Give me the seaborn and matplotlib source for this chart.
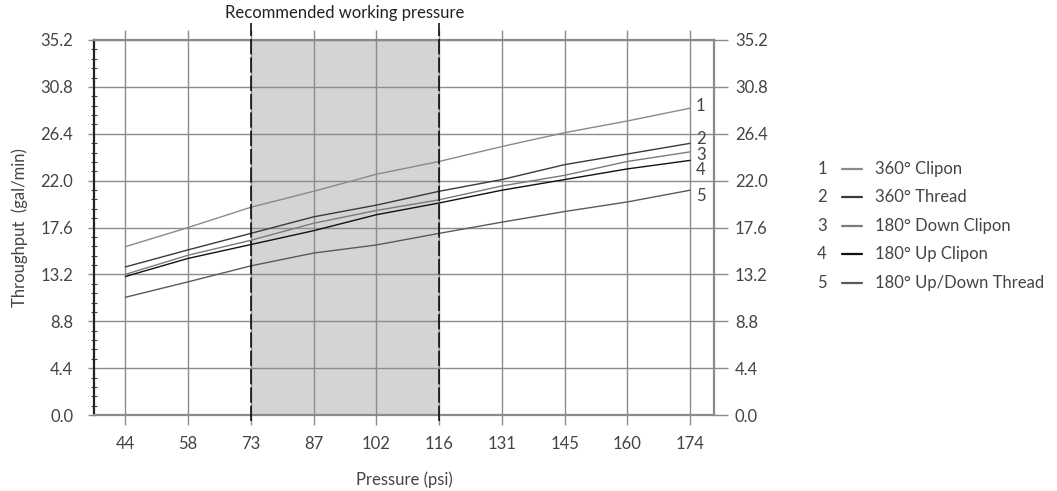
import numpy as np
import pandas as pd
import seaborn as sns
import matplotlib.pyplot as plt
from matplotlib.lines import Line2D
from matplotlib.ticker import MultipleLocator
import matplotlib.transforms as mtransforms

# --- data ---
PRESSURE = [44, 58, 73, 87, 102, 116, 131, 145, 160, 174]
SERIES = ['360° Clipon', '360° Thread', '180° Down Clipon', '180° Up Clipon', '180° Up/Down Thread']
FLOW_1 = [15.8, 17.6, 19.5, 21.0, 22.6, 23.8, 25.2, 26.5, 27.6, 28.8]
FLOW_2 = [13.9, 15.5, 17.05, 18.6, 19.7, 21.0, 22.1, 23.5, 24.5, 25.5]
FLOW_3 = [13.2, 15.0, 16.4, 18.0, 19.2, 20.2, 21.5, 22.5, 23.8, 24.7]
FLOW_4 = [13.0, 14.7, 16.0, 17.3, 18.8, 19.9, 21.1, 22.1, 23.1, 23.9]
FLOW_5 = [11.05, 12.5, 14.0, 15.2, 15.96, 17.05, 18.1, 19.1, 20.0, 21.1]
Y_TICKS = [0.0, 4.4, 8.8, 13.2, 17.6, 22.0, 26.4, 30.8, 35.2]
RECOMMENDED = (73, 116)

COLORS = ['#8a8a8a', '#3a3a3a', '#7a7a7a', '#111111', '#5a5a5a']
GRID = '#8c8c8c'
TXT = '#444444'
FS = 12

sns.set_style('white')
plt.rcParams['font.family'] = ['Lato', 'DejaVu Sans']

df = pd.DataFrame({
    'pos': list(range(len(PRESSURE))) * 5,
    'flow': FLOW_1 + FLOW_2 + FLOW_3 + FLOW_4 + FLOW_5,
    'series': [s for s in SERIES for _ in PRESSURE],
})

fig = plt.figure(figsize=(10.57, 4.91), dpi=100)
ax = fig.add_axes([94 / 1057, 76 / 491, 620 / 1057, 375 / 491])

# shaded recommended band + dashed borders
x0, x1 = PRESSURE.index(RECOMMENDED[0]), PRESSURE.index(RECOMMENDED[1])
ax.axvspan(x0, x1, color='#d3d4d6', zorder=0, lw=0)

sns.lineplot(data=df, x='pos', y='flow', hue='series', palette=COLORS,
             legend=False, ax=ax, lw=1.0, zorder=3)

ax.set_xlim(-0.5, 9.38)
ax.set_ylim(0, 35.2)
ax.set_xticks(range(len(PRESSURE)))
ax.set_xticklabels([str(p) for p in PRESSURE])
ax.set_yticks(Y_TICKS)
ax.set_yticklabels([f'{v:.1f}' for v in Y_TICKS])
ax.yaxis.set_minor_locator(MultipleLocator(0.88))

ax.grid(True, which='major', color=GRID, lw=1.0, zorder=1)
for l in ax.get_xgridlines() + ax.get_ygridlines():
    l.set_zorder(1)

for side in ['top', 'bottom', 'right']:
    ax.spines[side].set_color('#8a8a8a')
    ax.spines[side].set_linewidth(1.6)
ax.spines['left'].set_color('#222222')
ax.spines['left'].set_linewidth(1.6)

ax.tick_params(axis='x', which='major', top=True, bottom=True, direction='out',
               length=7, width=1.0, color=GRID, labelsize=FS, labelcolor=TXT, pad=8)
ax.tick_params(axis='y', which='major', left=True, right=True, labelleft=True, labelright=True,
               direction='out', length=10, width=1.0, color=GRID, labelsize=FS, labelcolor=TXT, pad=5)
ax.tick_params(axis='y', which='minor', left=True, right=False, direction='inout',
               length=5, width=0.8, color='#444444')
# left major ticks are short stubs in the original
for t in ax.yaxis.get_major_ticks():
    t.tick1line.set_markersize(4)

trans = mtransforms.blended_transform_factory(ax.transData, ax.transAxes)
for xv in (x0, x1):
    ax.plot([xv, xv], [-0.015, 1.045], color='black', lw=1.1, ls=(0, (10, 2)),
            transform=trans, clip_on=False, zorder=4)
ax.text((x0 + x1) / 2, 1.072, 'Recommended working pressure', transform=trans,
        ha='center', va='center', fontsize=FS, color='#222222')

# numbers at line ends
end_y = [29.0, 25.9, 24.4, 23.0, 20.6]
for i, yv in enumerate(end_y):
    ax.text(9.09, yv, str(i + 1), fontsize=FS, color=TXT, va='center', ha='left', zorder=5)

ax.set_xlabel('Pressure (psi)', fontsize=FS, color=TXT, labelpad=14)
ax.set_ylabel('Throughput  (gal/min)', fontsize=FS, color=TXT, labelpad=9)

# legend at the right
leg_y = [169, 197, 226, 254, 283]
for i, (name, c, yp) in enumerate(zip(SERIES, COLORS, leg_y)):
    yf = 1 - yp / 491
    fig.text(822 / 1057, yf, str(i + 1), fontsize=FS, color=TXT, ha='center', va='center')
    fig.add_artist(Line2D([842 / 1057, 862 / 1057], [yf, yf], color=c, lw=1.6))
    fig.text(875 / 1057, yf, name, fontsize=FS, color=TXT, ha='left', va='center')

fig.savefig('out.png', dpi=100)
